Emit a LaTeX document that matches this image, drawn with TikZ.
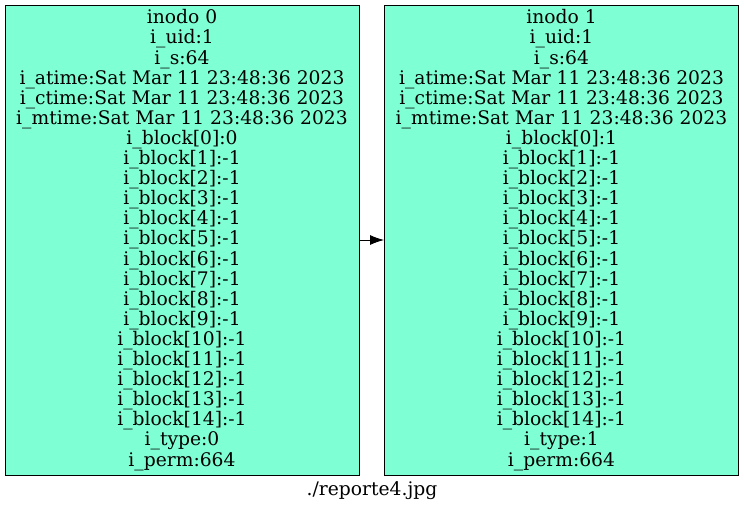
\documentclass[tikz,border=0pt]{standalone}
\usepackage{fontspec}
\setmainfont{DejaVu Serif}
\usetikzlibrary{arrows.meta}
\definecolor{aqua}{HTML}{7FFFD4}
\tikzset{
  inodebox/.style={draw=black, line width=1pt, fill=aqua, rectangle, minimum width=354pt, minimum height=470pt, inner sep=0pt, align=center, font=\fontsize{18.7pt}{20.1pt}\selectfont},
  link/.style={-{Latex[length=14pt,width=10pt]}, line width=0.8pt}
}
\begin{document}
\begin{tikzpicture}[x=1pt,y=-1pt]
\useasboundingbox (0,0) rectangle (744,512);
\node[inodebox] (n0) at (182,240) {inodo 0\\i\_uid:1\\i\_s:64\\i\_atime:Sat Mar 11 23:48:36 2023\\i\_ctime:Sat Mar 11 23:48:36 2023\\i\_mtime:Sat Mar 11 23:48:36 2023\\i\_block[0]:0\\i\_block[1]:-1\\i\_block[2]:-1\\i\_block[3]:-1\\i\_block[4]:-1\\i\_block[5]:-1\\i\_block[6]:-1\\i\_block[7]:-1\\i\_block[8]:-1\\i\_block[9]:-1\\i\_block[10]:-1\\i\_block[11]:-1\\i\_block[12]:-1\\i\_block[13]:-1\\i\_block[14]:-1\\i\_type:0\\i\_perm:664};
\node[inodebox] (n1) at (561.5,240) {inodo 1\\i\_uid:1\\i\_s:64\\i\_atime:Sat Mar 11 23:48:36 2023\\i\_ctime:Sat Mar 11 23:48:36 2023\\i\_mtime:Sat Mar 11 23:48:36 2023\\i\_block[0]:1\\i\_block[1]:-1\\i\_block[2]:-1\\i\_block[3]:-1\\i\_block[4]:-1\\i\_block[5]:-1\\i\_block[6]:-1\\i\_block[7]:-1\\i\_block[8]:-1\\i\_block[9]:-1\\i\_block[10]:-1\\i\_block[11]:-1\\i\_block[12]:-1\\i\_block[13]:-1\\i\_block[14]:-1\\i\_type:1\\i\_perm:664};
\draw[link] (n0.east) -- (n1.west);
\node[font=\fontsize{18.7pt}{20.1pt}\selectfont] (cap) at (372,491) {./reporte4.jpg};
\end{tikzpicture}
\end{document}
